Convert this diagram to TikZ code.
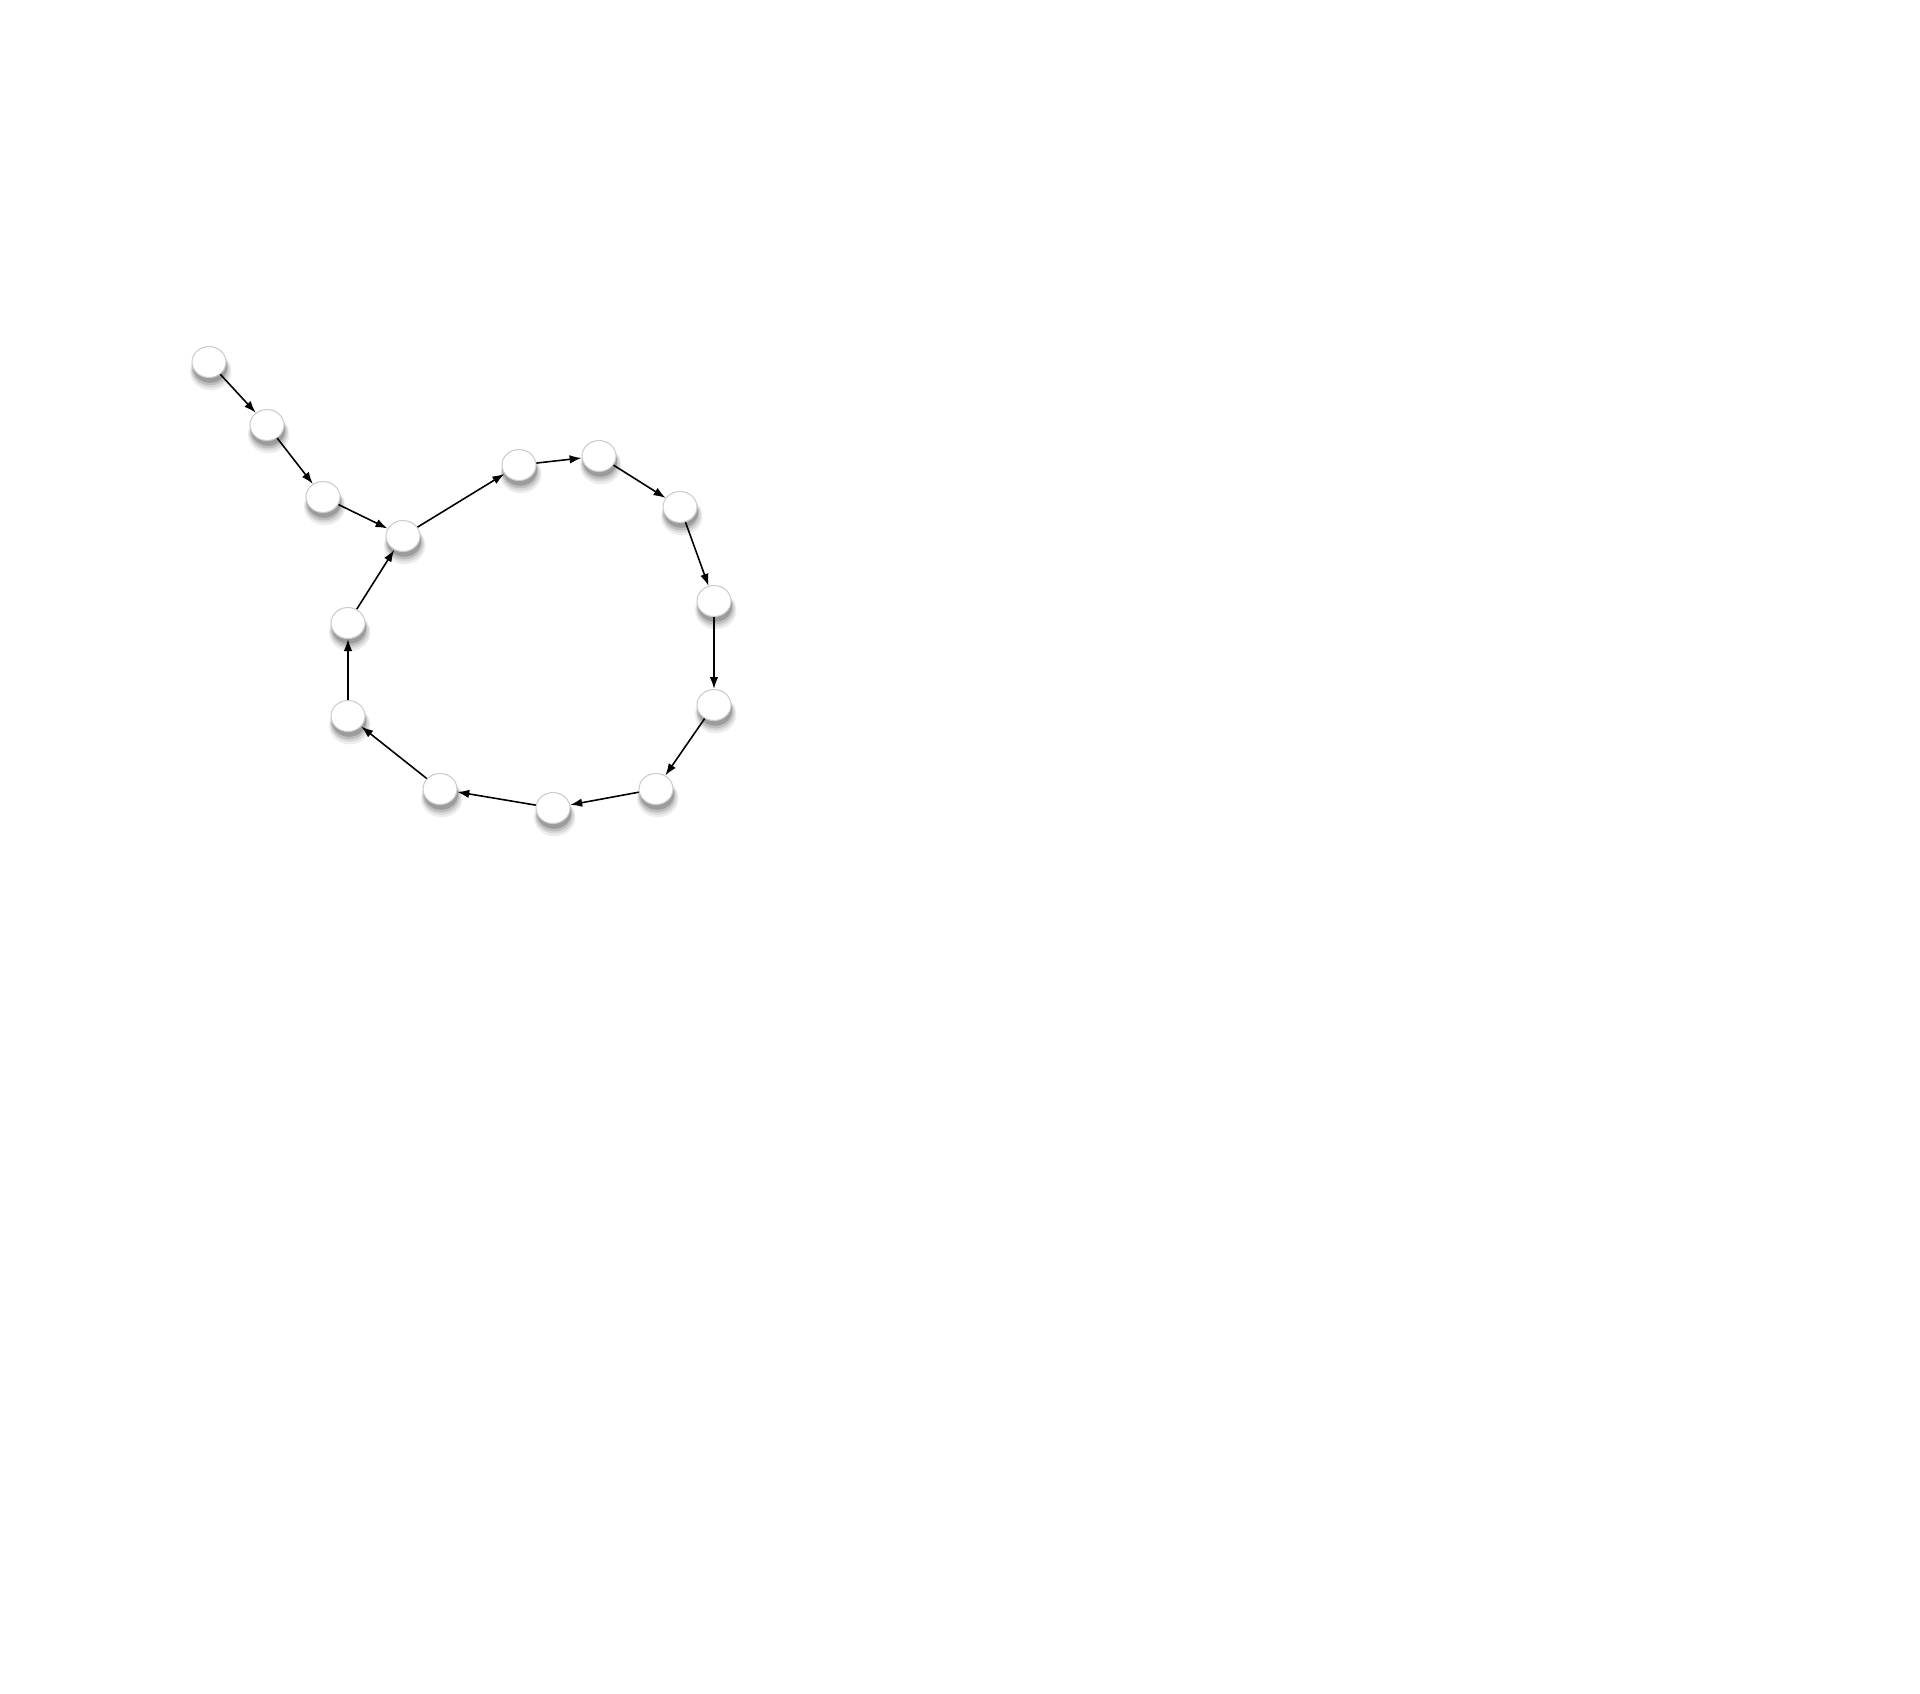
\documentclass[tikz,border=0pt]{standalone}
\usetikzlibrary{shapes.geometric, arrows.meta, shadows}

\begin{document}
\begin{tikzpicture}[
    vertex/.style={ellipse, draw=gray!40, line width=0.3pt, fill=white,
                   minimum width=0.34cm, minimum height=0.31cm, inner sep=0pt,
                   drop shadow={shadow scale=1.22, shadow xshift=0.4pt, shadow yshift=-2.2pt, opacity=0.07, fill=black, draw=none},
                   drop shadow={shadow scale=1.14, shadow xshift=0.4pt, shadow yshift=-2.0pt, opacity=0.09, fill=black, draw=none},
                   drop shadow={shadow scale=1.07, shadow xshift=0.3pt, shadow yshift=-1.8pt, opacity=0.12, fill=black, draw=none},
                   drop shadow={shadow scale=1.0, shadow xshift=0.3pt, shadow yshift=-1.5pt, opacity=0.18, fill=black, draw=none}},
    link/.style={-{Latex[length=1.2mm, width=0.85mm]}, line width=0.45pt, black}
]
\useasboundingbox (0,0) rectangle (19.2,-16.93);

% Tail
\node[vertex] (t1) at (2.09,-3.62) {};
\node[vertex] (t2) at (2.67,-4.25) {};
\node[vertex] (t3) at (3.23,-4.97) {};

% Cycle
\node[vertex] (c0) at (4.03,-5.36) {};
\node[vertex] (c1) at (5.19,-4.65) {};
\node[vertex] (c2) at (5.99,-4.56) {};
\node[vertex] (c3) at (6.80,-5.07) {};
\node[vertex] (c4) at (7.14,-6.01) {};
\node[vertex] (c5) at (7.14,-7.05) {};
\node[vertex] (c6) at (6.56,-7.89) {};
\node[vertex] (c7) at (5.53,-8.08) {};
\node[vertex] (c8) at (4.40,-7.89) {};
\node[vertex] (c9) at (3.48,-7.16) {};
\node[vertex] (c10) at (3.48,-6.23) {};

% Edges
\foreach \a/\b in {t1/t2,t2/t3,t3/c0,c0/c1,c1/c2,c2/c3,c3/c4,c4/c5,c5/c6,c6/c7,c7/c8,c8/c9,c9/c10,c10/c0}
    \draw[link] (\a) -- (\b);

\end{tikzpicture}
\end{document}
